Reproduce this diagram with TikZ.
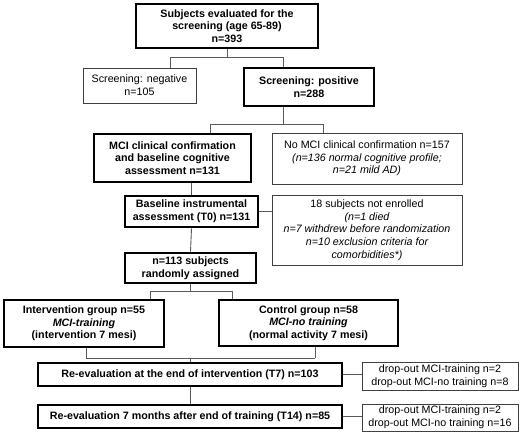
\documentclass[tikz,border=0pt]{standalone}
\usepackage{fontspec}
\setmainfont{Liberation Sans}
\begin{document}
\begin{tikzpicture}[x=1pt, y=-1pt,
    boldbox/.style={draw=black, line width=2.6pt, align=center, inner sep=0pt, font=\fontsize{10.7}{12.7}\selectfont\bfseries},
    thinbox/.style={draw=black!75, line width=0.8pt, align=center, inner sep=0pt, font=\fontsize{10.7}{12.7}\selectfont},
    link/.style={draw=black!65, line width=0.9pt}]
    \useasboundingbox (0,0) rectangle (520,433);

    % screening
    \node[boldbox, minimum width=182pt, minimum height=44pt] (screen) at (227,26) {Subjects evaluated for the\\screening (age 65-89)\\n=393};
    \node[thinbox, minimum width=113pt, minimum height=35pt] (negative) at (139.5,85.5) {Screening: negative\\n=105};
    \node[boldbox, minimum width=130pt, minimum height=38pt] (positive) at (309,87) {Screening: positive\\n=288};

    % clinical confirmation
    \node[boldbox, minimum width=157pt, minimum height=48pt] (confirm) at (172.5,158) {MCI clinical confirmation\\and baseline cognitive\\assessment n=131};
    \node[thinbox, minimum width=190pt, minimum height=51pt] (noconfirm) at (367,158.5) {No MCI clinical confirmation n=157\\\itshape(n=136 normal cognitive profile;\\\itshape n=21 mild AD)};

    % baseline and randomization
    \node[boldbox, minimum width=133pt, minimum height=31pt] (baseline) at (191.5,211.5) {Baseline instrumental\\assessment (T0) n=131};
    \node[thinbox, minimum width=190pt, minimum height=70pt] (notenrolled) at (367,230) {18 subjects not enrolled\\\itshape(n=1 died\\\itshape n=7 withdrew before randomization\\\itshape n=10 exclusion criteria for\\\itshape comorbidities*)};
    \node[boldbox, minimum width=131pt, minimum height=30pt] (random) at (190.5,268) {n=113 subjects\\randomly assigned};

    % groups
    \node[boldbox, minimum width=160pt, minimum height=47pt] (training) at (84,323.5) {Intervention group n=55\\\itshape MCI-training\\(intervention 7 mesi)};
    \node[boldbox, minimum width=179pt, minimum height=46pt] (control) at (308.5,323) {Control group n=58\\\itshape MCI-no training\\(normal activity 7 mesi)};

    % re-evaluations
    \node[boldbox, minimum width=304pt, minimum height=23pt] (evalT7) at (190,374.5) {Re-evaluation at the end of intervention (T7) n=103};
    \node[thinbox, minimum width=156pt, minimum height=28pt] (dropT7) at (440,376) {drop-out MCI-training n=2\\drop-out MCI-no training n=8};
    \node[boldbox, minimum width=304pt, minimum height=23pt] (evalT14) at (190,416.5) {Re-evaluation 7 months after end of training (T14) n=85};
    \node[thinbox, minimum width=156pt, minimum height=27pt] (dropT14) at (440,417.5) {drop-out MCI-training n=2\\drop-out MCI-no training n=16};

    % connectors
    \draw[link] (screen.south) -- ++(0,8) coordinate (split1);
    \draw[link] (split1) -| ([xshift=30.5pt]negative.north);
    \draw[link] (split1) -| ([xshift=-26pt]positive.north);
    \draw[link] ([xshift=-26pt]positive.south) -- ++(0,17) coordinate (split2);
    \draw[link] (split2) -| ([xshift=37.5pt]confirm.north);
    \draw[link] (split2) -| ([xshift=-44pt]noconfirm.north);
    \draw[link] (baseline.north |- confirm.south) -- (baseline.north);
    \draw[link] (baseline.east) -- (baseline.east -| notenrolled.west);
    \draw[link] (baseline.south) -- (random.north);
    \draw[link] (random.south) -- ++(0,7) coordinate (split3);
    \draw[link] (split3) -| ([xshift=66pt]training.north);
    \draw[link] (split3) -| ([xshift=-76.5pt]control.north);
    \draw[link] ([xshift=2pt]training.south) |- ([xshift=6.5pt]control.south |- 0,358) coordinate (merge);
    \draw[link] ([xshift=6.5pt]control.south) -- (merge);
    \draw[link] (evalT7.north |- merge) -- (evalT7.north);
    \draw[link] (evalT7.east) -- (evalT7.east -| dropT7.west);
    \draw[link] (evalT7.south) -- (evalT14.north);
    \draw[link] (evalT14.east) -- (evalT14.east -| dropT14.west);
\end{tikzpicture}
\end{document}
